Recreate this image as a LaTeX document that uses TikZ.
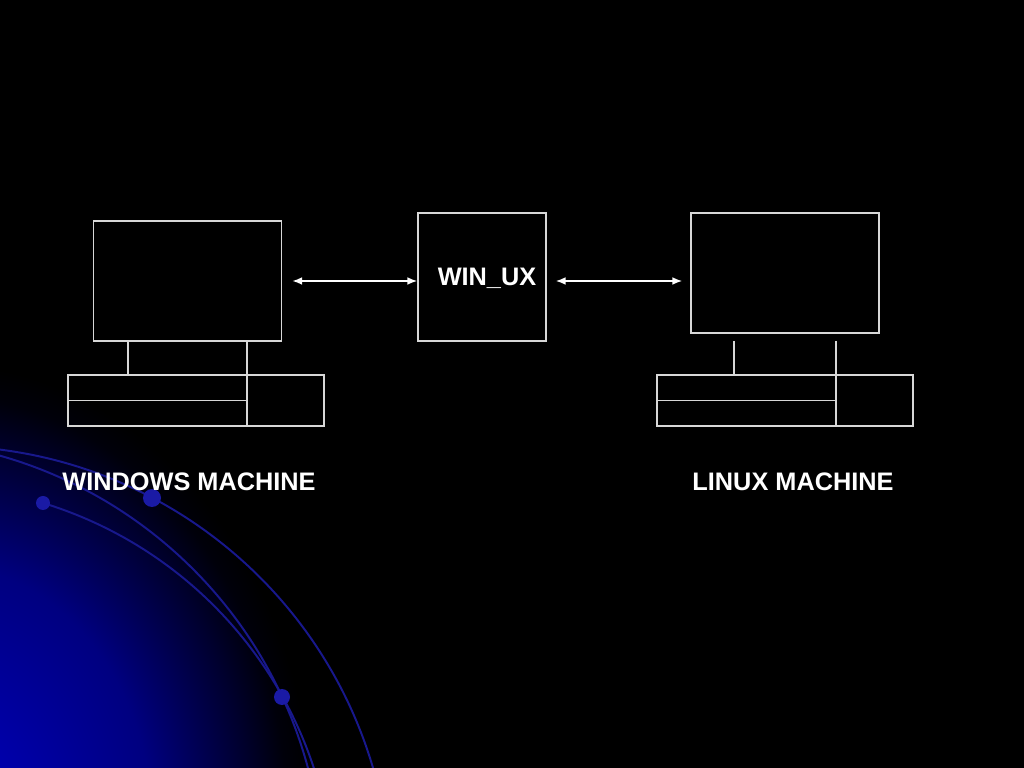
\documentclass[tikz,border=0pt]{standalone}
\usepackage{fontspec}
\setmainfont{Liberation Sans}
\usetikzlibrary{positioning, arrows.meta}

\newcommand{\px}{0.025cm}
\definecolor{wirecolor}{RGB}{215,215,215}
\definecolor{orbitcolor}{RGB}{24,24,140}
\definecolor{beadcolor}{RGB}{26,26,165}
\definecolor{glowa}{RGB}{0,0,200}
\definecolor{glowb}{RGB}{0,0,170}
\definecolor{glowc}{RGB}{0,0,128}
\definecolor{glowd}{RGB}{0,0,45}
\definecolor{glowe}{RGB}{0,0,10}
\pgfdeclareradialshading{glow}{\pgfpoint{0bp}{0bp}}{color(0bp)=(glowa); color(4.75bp)=(glowb); color(12.5bp)=(glowc); color(18.25bp)=(glowd); color(20.5bp)=(glowe); color(22bp)=(black); color(50bp)=(black)}

\tikzset{
  wire/.style={draw=wirecolor, line width=1pt},
  screen/.style={wire, inner sep=0pt, minimum width=188*\px, minimum height=120*\px},
  hub/.style={wire, inner sep=0pt, minimum width=128*\px, minimum height=128*\px},
  keys/.style={wire, inner sep=0pt, minimum width=256*\px, minimum height=51*\px},
  caption/.style={text=white, inner sep=0pt, font=\fontsize{18}{22}\selectfont\bfseries},
  link/.style={draw=white, line width=1.2pt, {Latex[length=7pt,width=5.5pt]}-{Latex[length=7pt,width=5.5pt]}},
  orbit/.style={draw=orbitcolor, line width=1.4pt},
  bead/.style={fill=beadcolor}
}

\begin{document}
\begin{tikzpicture}[x=\px, y=\px]
\useasboundingbox (0,0) rectangle (1024,768);
\fill[black] (0,0) rectangle (1024,768);

% background glow and orbits
\begin{scope}
\clip (0,0) rectangle (1024,768);
\shade[shading=glow] (-60,-62) ellipse [x radius=425*\px, y radius=530*\px];
\draw[orbit] (-57,-126) circle [radius=448*\px];
\draw[orbit] (-121,-115) circle [radius=444*\px];
\draw[orbit] (43,265) arc [start angle=73, end angle=5, radius=412*\px];
\fill[bead] (152,270) circle [radius=9*\px];
\fill[bead] (43,265) circle [radius=7*\px];
\fill[bead] (282,71) circle [radius=8*\px];
\end{scope}

% machines
\node[screen] (winscreen) at (187.5,487) {};
\node[keys] (winkeys) at (196,367.5) {};
\node[hub] (winux) at (482,491) {};
\node[screen] (linscreen) at (785,495) {};
\node[keys] (linkeys) at (785,367.5) {};

\foreach \x in {128,247}
\draw[wire] (\x,0 |- winscreen.south) -- (\x,0 |- winkeys.north);
\foreach \x in {734,836}
\draw[wire] (\x,427) -- (\x,0 |- linkeys.north);
\foreach \k in {winkeys,linkeys}
{
\draw[wire] (\k.west) -- ([xshift=51*\px]\k.center);
\draw[wire] ([xshift=51*\px]\k.north) -- ([xshift=51*\px]\k.south);
}

% texts
\node[caption, anchor=base] (winuxtext) at ([xshift=5*\px, yshift=-9*\px]winux.center) {WIN\_UX};
\node[caption] (wincaption) at (189,286) {WINDOWS MACHINE};
\node[caption] (lincaption) at (793,286) {LINUX MACHINE};

% links
\draw[link, shorten <=10*\px] (winscreen.east) -- (winux.west |- winscreen.east);
\draw[link, shorten <=9*\px, shorten >=8*\px] (winux.east |- winscreen.east) -- (linscreen.west |- winscreen.east);
\end{tikzpicture}
\end{document}
